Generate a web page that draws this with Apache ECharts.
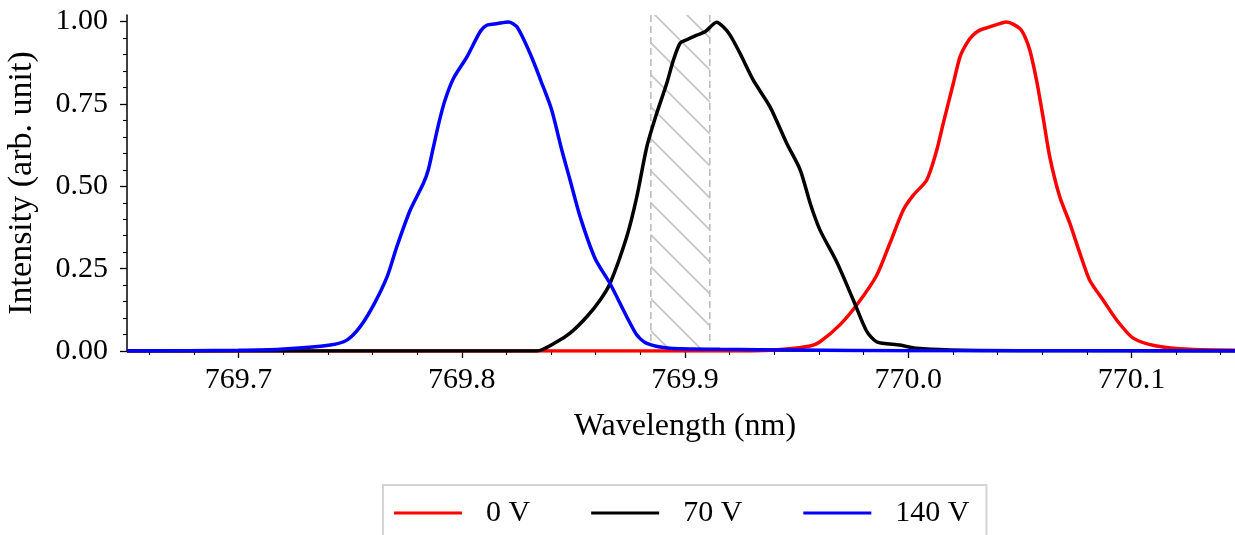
<!DOCTYPE html>
<html>
<head>
<meta charset="utf-8">
<script src="https://cdn.jsdelivr.net/npm/echarts@6/dist/echarts.min.js"></script>
<style>
html,body{margin:0;padding:0;background:#fff;}
#chart{width:1235px;height:535px;}
</style>
</head>
<body>
<div id="chart"></div>
<script>
// ---- data ----
const seriesNames = ['0 V', '70 V', '140 V'];
const seriesColors = ['#ff0000', '#000000', '#0000ff'];

// 0 V (red)
const redX = [769.65, 769.93, 769.9441, 769.9560, 769.9605, 769.9695, 769.9775, 769.9859, 769.9918, 769.9978, 770.0023, 770.0083, 770.0128, 770.0157, 770.0202, 770.0232, 770.0262, 770.0291, 770.0321, 770.0366, 770.0411, 770.0441, 770.0500, 770.0523, 770.0545, 770.0575, 770.0604, 770.0634, 770.0679, 770.0724, 770.0769, 770.0813, 770.0873, 770.0934, 770.1008, 770.1113, 770.1262, 770.15];
const redY = [0, 0, 0.005, 0.015, 0.028, 0.080, 0.145, 0.230, 0.327, 0.428, 0.473, 0.519, 0.610, 0.691, 0.812, 0.893, 0.934, 0.959, 0.974, 0.984, 0.994, 0.999, 0.979, 0.954, 0.913, 0.822, 0.711, 0.590, 0.468, 0.388, 0.297, 0.215, 0.155, 0.094, 0.039, 0.015, 0.005, 0.002];

// 70 V (black)
const blackX = [769.65, 769.80, 769.8336, 769.8426, 769.8485, 769.8560, 769.8620, 769.8664, 769.8739, 769.8784, 769.8829, 769.8873, 769.8918, 769.8948, 769.8978, 769.9008, 769.9053, 769.9090, 769.9142, 769.9170, 769.9202, 769.9247, 769.9306, 769.9381, 769.9456, 769.9516, 769.9561, 769.9605, 769.9680, 769.9754, 769.9814, 769.9859, 769.9963, 770.0038, 770.0187, 770.05, 770.15];
const blackY = [0, 0, 0.0, 0.028, 0.054, 0.104, 0.155, 0.205, 0.347, 0.468, 0.620, 0.721, 0.812, 0.883, 0.934, 0.945, 0.959, 0.969, 0.998, 0.985, 0.959, 0.903, 0.822, 0.741, 0.630, 0.550, 0.448, 0.367, 0.270, 0.155, 0.060, 0.028, 0.018, 0.008, 0.003, 0.001, 0];

// 140 V (blue)
const blueX = [769.65, 769.70, 769.7187, 769.7411, 769.7485, 769.7545, 769.7605, 769.7665, 769.7709, 769.7769, 769.7828, 769.7850, 769.7873, 769.7900, 769.7925, 769.7963, 769.8023, 769.8082, 769.8112, 769.8160, 769.8209, 769.8247, 769.8306, 769.8359, 769.8403, 769.8448, 769.8485, 769.8530, 769.8597, 769.8664, 769.8739, 769.8784, 769.8829, 769.8933, 769.9157, 769.95, 770.0, 770.15];
const blueY = [0, 0.002, 0.005, 0.018, 0.033, 0.074, 0.140, 0.225, 0.317, 0.428, 0.509, 0.550, 0.620, 0.700, 0.762, 0.828, 0.893, 0.969, 0.989, 0.994, 0.999, 0.984, 0.903, 0.812, 0.731, 0.610, 0.519, 0.408, 0.281, 0.205, 0.104, 0.049, 0.023, 0.008, 0.005, 0.003, 0.001, 0];

// shaded (hatched) wavelength band
const bandX = [769.8847, 769.9111];

// axes
const xMin = 769.65, xMax = 770.15;
const yMin = 0, yMax = 1.02;
const xMajorTicks = [769.7, 769.8, 769.9, 770.0, 770.1];
const xMinorTicks = [769.66, 769.68, 769.72, 769.74, 769.76, 769.78, 769.82, 769.84, 769.86, 769.88, 769.92, 769.94, 769.96, 769.98, 770.02, 770.04, 770.06, 770.08, 770.12, 770.14];
const yMajorTicks = [0, 0.25, 0.5, 0.75, 1.0];
const yMinorTicks = [0.05, 0.1, 0.15, 0.2, 0.3, 0.35, 0.4, 0.45, 0.55, 0.6, 0.65, 0.7, 0.8, 0.85, 0.9, 0.95];

const xName = 'Wavelength (nm)';
const yName = 'Intensity (arb. unit)';

// ---- chart ----
const FONT = 'Liberation Serif';
const chart = echarts.init(document.getElementById('chart'), null, {renderer: 'canvas'});

function zip(xs, ys) { return xs.map((x, i) => [x, ys[i]]); }

// hatch pattern
const tile = document.createElement('canvas');
tile.width = 32; tile.height = 32;
(function () {
  const c = tile.getContext('2d');
  c.strokeStyle = '#c4c4c4';
  c.lineWidth = 1.6;
  c.beginPath();
  c.moveTo(-8, -8); c.lineTo(40, 40);
  c.moveTo(24, -8); c.lineTo(40, 8);
  c.moveTo(-8, 24); c.lineTo(8, 40);
  c.stroke();
})();

const lineData = [zip(redX, redY), zip(blackX, blackY), zip(blueX, blueY)];

const axisLineStyle = {color: '#000', width: 1.5};

const option = {
  backgroundColor: '#fff',
  animation: false,
  grid: {left: 127, top: 15, right: -8, bottom: 184, outerBoundsMode: 'none', containLabel: false},
  legend: {
    data: seriesNames.map(n => ({name: n, icon: 'rect'})),
    left: 383, top: 485,
    orient: 'horizontal',
    padding: [13, 17, 30, 11],
    itemGap: 61,
    itemWidth: 68,
    itemHeight: 3,
    borderColor: '#d4d4d4',
    borderWidth: 2,
    borderRadius: 0,
    backgroundColor: '#fff',
    textStyle: {fontFamily: FONT, fontSize: 30, color: '#000', padding: [0, 0, 0, 19], lineHeight: 30}
  },
  xAxis: [
    {
      type: 'value', min: xMin, max: xMax, position: 'bottom',
      name: xName, nameLocation: 'middle', nameGap: 60,
      nameTextStyle: {fontFamily: FONT, fontSize: 32, color: '#000'},
      axisLine: {show: true, onZero: false, lineStyle: axisLineStyle},
      axisTick: {show: true, inside: false, length: 7, lineStyle: {color: '#000', width: 1.3}, customValues: xMajorTicks},
      axisLabel: {show: true, margin: 14, fontFamily: FONT, fontSize: 30, color: '#000', customValues: xMajorTicks,
        formatter: v => v.toFixed(1)},
      splitLine: {show: false}
    },
    {
      type: 'value', min: xMin, max: xMax, position: 'bottom', offset: 0,
      axisLine: {show: false},
      axisTick: {show: true, inside: false, length: 4, lineStyle: {color: '#000', width: 1.1}, customValues: xMinorTicks},
      axisLabel: {show: false},
      splitLine: {show: false}
    }
  ],
  yAxis: [
    {
      type: 'value', min: yMin, max: yMax, position: 'left',
      name: yName, nameLocation: 'middle', nameGap: 88, nameRotate: 90,
      nameTextStyle: {fontFamily: FONT, fontSize: 34, color: '#000'},
      axisLine: {show: true, onZero: false, lineStyle: axisLineStyle},
      axisTick: {show: true, inside: false, length: 7, lineStyle: {color: '#000', width: 1.3}, customValues: yMajorTicks},
      axisLabel: {show: true, margin: 19, fontFamily: FONT, fontSize: 30, color: '#000', customValues: yMajorTicks,
        formatter: v => v.toFixed(2)},
      splitLine: {show: false}
    },
    {
      type: 'value', min: yMin, max: yMax, position: 'left', offset: 0,
      axisLine: {show: false},
      axisTick: {show: true, inside: false, length: 4, lineStyle: {color: '#000', width: 1.1}, customValues: yMinorTicks},
      axisLabel: {show: false},
      splitLine: {show: false}
    }
  ],
  series: [
    {
      type: 'custom', name: 'band', xAxisIndex: 0, yAxisIndex: 0, z: 1, silent: true,
      data: [bandX],
      encode: {x: [0, 1]},
      clip: true,
      renderItem: function (params, api) {
        const cs = params.coordSys;
        const x0 = api.coord([api.value(0), 0])[0];
        const x1 = api.coord([api.value(1), 0])[0];
        const dash = {stroke: '#bdbdbd', lineWidth: 1.6, lineDash: [7, 4], fill: null};
        return {
          type: 'group',
          children: [
            {type: 'rect', shape: {x: x0, y: cs.y, width: x1 - x0, height: cs.height},
              style: {fill: {image: tile, repeat: 'repeat'}}},
            {type: 'line', shape: {x1: x0, y1: cs.y, x2: x0, y2: cs.y + cs.height - 8}, style: dash},
            {type: 'line', shape: {x1: x1, y1: cs.y, x2: x1, y2: cs.y + cs.height - 8}, style: dash}
          ]
        };
      }
    }
  ].concat(seriesNames.map((n, i) => ({
    type: 'line', name: n, xAxisIndex: 0, yAxisIndex: 0,
    data: lineData[i],
    symbol: 'none', showSymbol: false,
    smooth: 0.25,
    z: 3 + i,
    color: seriesColors[i],
    lineStyle: {color: seriesColors[i], width: 3.5},
    itemStyle: {color: seriesColors[i]}
  })))
};

chart.setOption(option);
</script>
</body>
</html>
